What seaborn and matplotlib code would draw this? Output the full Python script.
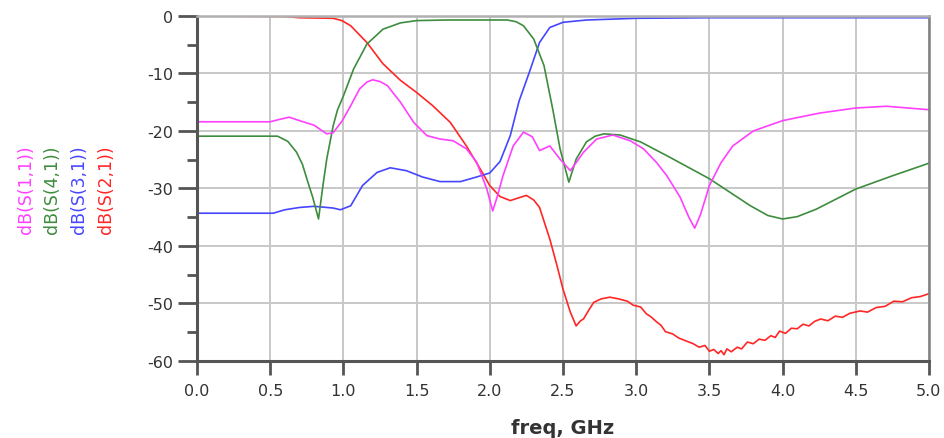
import matplotlib
matplotlib.use("Agg")
import matplotlib.pyplot as plt
import pandas as pd
import seaborn as sns
from matplotlib.ticker import MultipleLocator, FormatStrFormatter

# S-parameter traces (freq in GHz, magnitude in dB)
s11_freq = [0.0, 0.5, 0.56, 0.63, 0.7, 0.8, 0.886, 0.93, 0.99, 1.05, 1.11, 1.16, 1.2, 1.25,
            1.3, 1.39, 1.48, 1.57, 1.66, 1.75, 1.84, 1.91, 1.98, 2.02, 2.05, 2.09, 2.16,
            2.23, 2.29, 2.34, 2.41, 2.48, 2.55, 2.59, 2.64, 2.73, 2.84, 2.96, 3.05, 3.14,
            3.21, 3.3, 3.36, 3.4, 3.44, 3.5, 3.58, 3.66, 3.8, 4.0, 4.25, 4.5, 4.71, 5.0]
s11_db = [-18.4, -18.4, -18.0, -17.6, -18.2, -19.0, -20.5, -20.3, -18.3, -15.6, -12.7,
          -11.5, -11.1, -11.4, -12.1, -15.0, -18.5, -20.8, -21.4, -21.7, -23.1, -25.4,
          -30.1, -33.9, -31.5, -27.8, -22.6, -20.2, -21.0, -23.4, -22.6, -24.9, -26.9,
          -25.5, -23.7, -21.4, -20.7, -21.7, -23.1, -25.5, -27.8, -31.5, -35.0, -36.9,
          -34.5, -29.5, -25.5, -22.6, -20.0, -18.2, -16.9, -16.0, -15.7, -16.3]

s41_freq = [0.0, 0.55, 0.62, 0.68, 0.72, 0.75, 0.79, 0.83, 0.86, 0.886, 0.93, 0.96, 1.0,
            1.07, 1.16, 1.27, 1.39, 1.5, 1.7, 2.12, 2.18, 2.23, 2.3, 2.37, 2.43, 2.48,
            2.54, 2.59, 2.66, 2.72, 2.78, 2.89, 3.03, 3.21, 3.5, 3.78, 3.9, 4.0, 4.1, 4.23,
            4.5, 4.75, 5.0]
s41_db = [-20.9, -20.9, -21.8, -23.7, -25.8, -28.3, -31.5, -35.3, -29.5, -24.9, -19.1,
          -16.3, -13.9, -9.2, -4.9, -2.3, -1.2, -0.8, -0.7, -0.7, -1.0, -1.7, -4.0, -8.6,
          -16.2, -23.1, -28.9, -24.9, -21.9, -20.9, -20.5, -20.7, -21.9, -24.3, -28.3,
          -33.0, -34.7, -35.3, -34.9, -33.6, -30.1, -27.8, -25.6]

s31_freq = [0.0, 0.52, 0.6, 0.7, 0.8, 0.93, 0.98, 1.05, 1.13, 1.23, 1.32, 1.43, 1.54,
            1.66, 1.8, 1.91, 2.0, 2.07, 2.14, 2.2, 2.27, 2.34, 2.41, 2.5, 2.66, 3.0, 3.5,
            4.0, 5.0]
s31_db = [-34.3, -34.3, -33.7, -33.3, -33.1, -33.4, -33.7, -33.0, -29.5, -27.2, -26.4,
          -26.9, -28.0, -28.8, -28.8, -28.0, -27.3, -25.3, -20.8, -14.8, -9.8, -4.6, -2.0,
          -1.1, -0.7, -0.4, -0.3, -0.3, -0.3]

s21_freq = [0.0, 0.6, 0.7, 0.93, 0.99, 1.05, 1.16, 1.27, 1.39, 1.5, 1.61, 1.73, 1.84,
            1.93, 2.0, 2.07, 2.14, 2.2, 2.25, 2.3, 2.34, 2.41, 2.46, 2.5, 2.55, 2.59, 2.62,
            2.64, 2.68, 2.71, 2.76, 2.82, 2.88, 2.94, 2.98, 3.03, 3.07, 3.1, 3.14, 3.17,
            3.2, 3.25, 3.29, 3.33, 3.39, 3.43, 3.47, 3.5, 3.53, 3.56, 3.58, 3.6, 3.62,
            3.65, 3.69, 3.72, 3.76, 3.8, 3.84, 3.88, 3.92, 3.95, 3.98, 4.02, 4.06, 4.1,
            4.14, 4.18, 4.22, 4.26, 4.31, 4.36, 4.41, 4.46, 4.53, 4.58, 4.64, 4.7, 4.76,
            4.82, 4.88, 4.94, 5.0]
s21_db = [0.0, -0.1, -0.3, -0.4, -0.8, -1.7, -4.6, -8.3, -11.2, -13.3, -15.6, -18.5,
          -22.6, -26.4, -29.5, -31.4, -32.1, -31.6, -31.2, -32.0, -33.3, -38.8, -43.5,
          -47.5, -51.5, -53.9, -53.0, -52.7, -51.0, -49.8, -49.2, -48.9, -49.2, -49.6,
          -50.3, -50.6, -51.8, -52.3, -53.2, -53.8, -54.9, -55.3, -56.0, -56.4, -57.0,
          -57.6, -57.3, -58.3, -58.0, -58.7, -58.2, -58.9, -57.9, -58.4, -57.6, -57.9,
          -56.7, -57.0, -56.2, -56.4, -55.6, -55.9, -54.8, -55.2, -54.3, -54.4, -53.6,
          -53.9, -53.1, -52.7, -53.0, -52.2, -52.4, -51.7, -51.3, -51.5, -50.7, -50.5,
          -49.6, -49.7, -49.0, -48.8, -48.3]

labels = ["dB(S(1,1))", "dB(S(4,1))", "dB(S(3,1))", "dB(S(2,1))"]
colors = ["#ff40ff", "#3e8c3e", "#4646ff", "#ff2626"]

frames = []
for lab, f, d in zip(labels, [s11_freq, s41_freq, s31_freq, s21_freq],
                     [s11_db, s41_db, s31_db, s21_db]):
    frames.append(pd.DataFrame({"freq": f, "db": d, "trace": lab}))
df = pd.concat(frames, ignore_index=True)

sns.set_style("white")
plt.rcParams["font.family"] = ["DejaVu Sans"]
plt.rcParams["axes.unicode_minus"] = False

fig = plt.figure(figsize=(9.45, 4.39), dpi=100)
ax = fig.add_axes([0.2085, 0.1754, 0.7745, 0.7859])

# red last so it sits on top like the original
for lab, col in zip(labels[::-1], colors[::-1]):
    sub = df[df["trace"] == lab]
    sns.lineplot(data=sub, x="freq", y="db", color=col, lw=1.2, sort=False,
                 estimator=None, ax=ax, legend=False)

ax.set_xlim(0, 5)
ax.set_ylim(-60, 0)
ax.xaxis.set_major_locator(MultipleLocator(0.5))
ax.xaxis.set_major_formatter(FormatStrFormatter("%.1f"))
ax.yaxis.set_major_locator(MultipleLocator(10))
ax.yaxis.set_minor_locator(MultipleLocator(5))
ax.grid(True, which="major", color="#c8c8c8", lw=1.4)
ax.set_axisbelow(True)

ax.tick_params(axis="y", which="major", length=14, width=2, color="#555555",
               labelsize=11.5, labelcolor="#333333", pad=3, left=True)
ax.tick_params(axis="y", which="minor", length=7, width=2, color="#555555", left=True)
ax.tick_params(axis="x", which="major", length=10, width=2, color="#555555",
               labelsize=11.5, labelcolor="#333333", pad=6, bottom=True)

for side in ["left", "bottom"]:
    ax.spines[side].set_color("#555555")
    ax.spines[side].set_linewidth(2.2)
ax.spines["top"].set_color("#b0b0b0")
ax.spines["top"].set_linewidth(1.8)
ax.spines["right"].set_color("#808080")
ax.spines["right"].set_linewidth(1.8)

ax.set_xlabel("freq, GHz", fontsize=14, fontweight="bold", color="#333333", labelpad=14)
ax.set_ylabel("")

for i, (lab, col) in enumerate(zip(labels, colors)):
    fig.text(0.027 + i * 0.0283, 0.567, lab, rotation=90, color=col, fontsize=12.5,
             ha="center", va="center")

fig.savefig("out.png", dpi=100)
